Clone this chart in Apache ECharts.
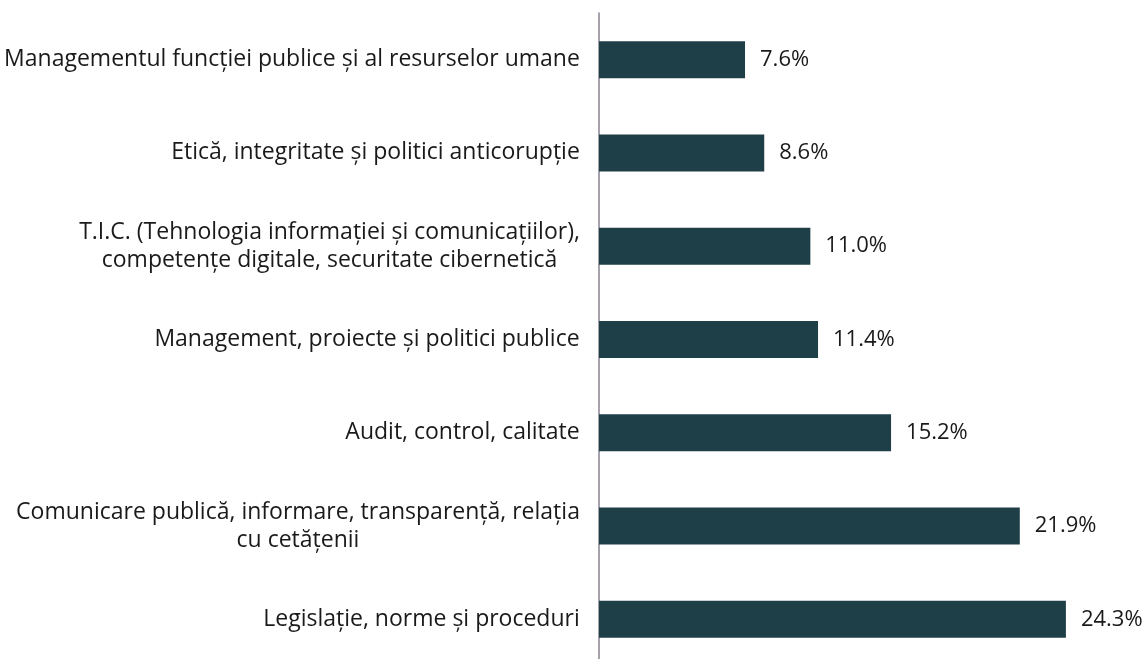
<!DOCTYPE html>
<html>
<head>
<meta charset="utf-8">
<script src="https://cdn.jsdelivr.net/npm/echarts@6/dist/echarts.min.js"></script>
<style>
  html, body { margin: 0; padding: 0; background: #fff; overflow: hidden; }
  #container { width: 1144px; height: 666px; }
</style>
</head>
<body>
<div id="container"></div>
<script>
var categories = [
    'Managementul funcției publice și al resurselor umane',
    'Etică, integritate și politici anticorupție',
    'T.I.C. (Tehnologia informației și comunicațiilor),\ncompetențe digitale, securitate cibernetică',
    'Management, proiecte și politici publice',
    'Audit, control, calitate',
    'Comunicare publică, informare, transparență, relația\ncu cetățenii',
    'Legislație, norme și proceduri'
];
var values = [7.6, 8.6, 11.0, 11.4, 15.2, 21.9, 24.3];

var dom = document.getElementById('container');
var myChart = echarts.init(dom);

var font = '"Open Sans", sans-serif';
var fontSize = 23;

// measure each label so wrapped lines can be centred inside a fixed-width box
var ctx = document.createElement('canvas').getContext('2d');
ctx.font = fontSize + 'px ' + font;
var rich = {};
categories.forEach(function (c, i) {
    var w = 0;
    c.split('\n').forEach(function (s) { w = Math.max(w, ctx.measureText(s).width); });
    rich['c' + i] = {
        align: 'center',
        width: Math.ceil(w) + 2,
        color: '#1a1a1a',
        fontFamily: font,
        fontSize: fontSize,
        lineHeight: 28
    };
});

var option = {
    animation: false,
    grid: {
        left: 597,
        top: 13,
        right: 7,
        bottom: 0
    },
    xAxis: {
        type: 'value',
        min: 0,
        max: 28,
        show: false
    },
    yAxis: {
        type: 'category',
        inverse: true,
        data: categories,
        axisLine: { lineStyle: { color: '#8a8290', width: 1.5 } },
        axisTick: { show: false },
        axisLabel: {
            margin: 18,
            color: '#1a1a1a',
            fontFamily: font,
            fontSize: fontSize,
            lineHeight: 28,
            formatter: function (v, i) {
                return v.split('\n').map(function (s) { return '{c' + i + '|' + s + '}'; }).join('\n');
            },
            rich: rich
        }
    },
    series: [
        {
            type: 'bar',
            data: values,
            barWidth: 37,
            itemStyle: { color: '#1f3f48' },
            label: {
                show: true,
                position: 'right',
                distance: 15,
                color: '#1a1a1a',
                fontFamily: font,
                fontSize: 22,
                formatter: function (p) { return p.value.toFixed(1) + '%'; }
            }
        }
    ]
};

myChart.setOption(option);
</script>
</body>
</html>
